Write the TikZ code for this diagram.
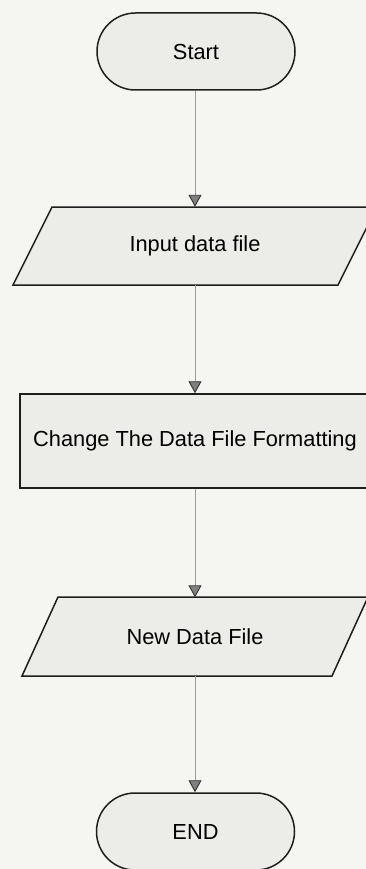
\documentclass[tikz,border=0pt]{standalone}
\usepackage{fontspec}
\setmainfont{Liberation Sans}
\usetikzlibrary{arrows.meta,shapes.misc}

\definecolor{paper}{HTML}{F5F5F2}
\definecolor{boxfill}{HTML}{ECECE9}
\definecolor{edge}{HTML}{1E1E1E}
\definecolor{flowline}{HTML}{9A9A9A}

\tikzset{
  outline/.style={draw=edge, line width=1.5pt, fill=boxfill},
  terminal/.style={outline, rounded rectangle, minimum width=198pt, minimum height=77pt, inner sep=0pt},
  process/.style={outline, rectangle, minimum width=350pt, minimum height=94pt, inner sep=0pt},
  iotext/.style={rectangle, minimum width=300pt, minimum height=78pt, inner sep=0pt},
  label/.style={font=\fontsize{21.8pt}{24pt}\selectfont, text=black},
  flow/.style={draw=flowline, line width=0.8pt,
    -{Triangle[width=13pt,length=12pt,color=black!80,fill=black!50,line width=0.9pt]}},
}

\begin{document}
\begin{tikzpicture}[x=1pt, y=-1pt]
  % page and its margins
  \fill[paper] (0,0) rectangle (366,869);
  \useasboundingbox (0,0) rectangle (366,869);

  % start terminal
  \node[terminal, label] (start) at (196,51.5) {Start};

  % input: parallelogram drawn around a plain text node
  \filldraw[outline] (13,285) -- (52,207) -- (377,207) -- (338,285) -- cycle;
  \node[iotext, label] (input) at (195,246) {Input data file};

  % processing step
  \node[process, label] (change) at (195,441) {Change The Data File Formatting};

  % output: parallelogram drawn around a plain text node
  \filldraw[outline] (22,676) -- (58,597) -- (368,597) -- (332,676) -- cycle;
  \node[iotext, label] (output) at (195,636.5) {New Data File};

  % end terminal
  \node[terminal, label] (stop) at (195.5,831.5) {END};

  % connectors
  \draw[flow] (start.south -| input.north) -- (input.north);
  \draw[flow] (input.south) -- (change.north);
  \draw[flow] (change.south) -- (output.north);
  \draw[flow] (output.south) -- (stop.north -| output.south);
\end{tikzpicture}
\end{document}
